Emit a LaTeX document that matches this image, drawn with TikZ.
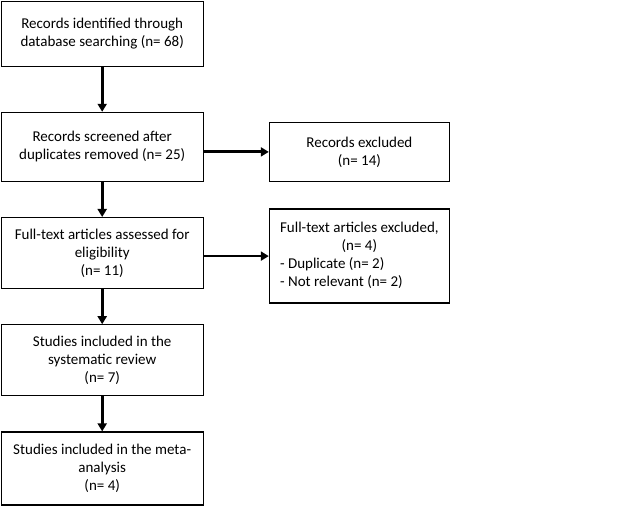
\documentclass[tikz,border=0pt]{standalone}
\usepackage{fontspec}
\setmainfont{Carlito}
\usepackage{tikz}
\usetikzlibrary{arrows.meta, positioning}

\begin{document}
\begin{tikzpicture}[
  x=1pt, y=1pt,
  mainbox/.style={draw, rectangle, line width=1.2pt, fill=white, minimum width=202pt, align=center, font=\fontsize{15}{18}\selectfont},
  exclbox/.style={draw, rectangle, line width=1.2pt, fill=white, minimum width=180pt, align=center, font=\fontsize{15}{18}\selectfont},
  flow/.style={-{Triangle[length=8pt,width=9pt]}, line width=2.8pt, black}
]
\useasboundingbox (0,0) rectangle (625,-524);

\node[mainbox, minimum height=65pt, anchor=north west] (Ident) at (0.6,-0.6) {Records identified through\\database searching (n= 68)};
\node[mainbox, minimum height=69pt] (Screen) [below=45pt of Ident] {Records screened after\\duplicates removed (n= 25)};
\node[exclbox, minimum height=59pt] (Excl) [right=65pt of Screen, yshift=-5pt] {Records excluded\\(n= 14)};

\node[mainbox, minimum height=71pt] (FullText) [below=35pt of Screen] {Full-text articles assessed for\\eligibility\\(n= 11)};
\node[exclbox, minimum height=94pt] (FullExcl) [right=65pt of FullText, yshift=-3pt] {\begin{tabular}{@{}l@{}}
  \multicolumn{1}{@{}c@{}}{Full-text articles excluded,}\\
  \multicolumn{1}{@{}c@{}}{(n= 4)}\\
  - Duplicate (n= 2)\\
  - Not relevant (n= 2)
\end{tabular}};

\node[mainbox, minimum height=71pt] (SysRev) [below=35pt of FullText] {Studies included in the\\systematic review\\(n= 7)};
\node[mainbox, minimum height=73pt] (Meta) [below=35pt of SysRev] {Studies included in the meta-\\analysis\\(n= 4)};

\draw[flow] (Ident) -- (Screen);
\draw[flow] (Screen.east |- Excl) -- (Excl.west);
\draw[flow] (Screen) -- (FullText);
\draw[flow] (FullText.east |- FullExcl) -- (FullExcl.west);
\draw[flow] (FullText) -- (SysRev);
\draw[flow] (SysRev) -- (Meta);
\end{tikzpicture}
\end{document}
